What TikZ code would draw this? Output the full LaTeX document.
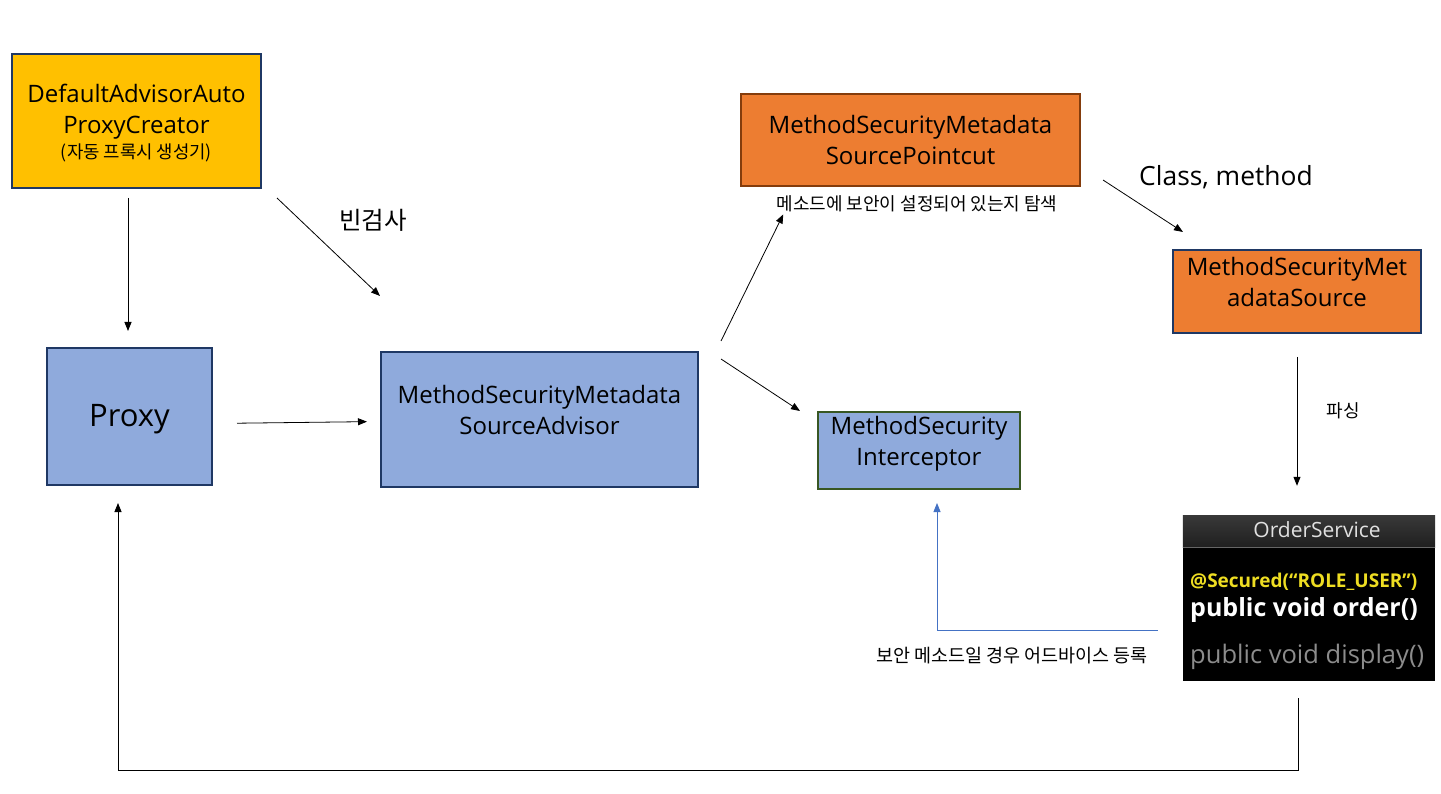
\documentclass[tikz,border=0pt]{standalone}
\usepackage{fontspec}
\setmainfont{Open Sans}
\newfontfamily\kr{Noto Sans CJK KR}
\usetikzlibrary{arrows.meta,calc}
\definecolor{advyellow}{HTML}{FFC000}
\definecolor{beanblue}{HTML}{8FAADC}
\definecolor{cutorange}{HTML}{ED7D31}
\definecolor{navyline}{HTML}{1F3864}
\definecolor{brownline}{HTML}{843C0C}
\definecolor{greenline}{HTML}{385723}
\definecolor{regblue}{HTML}{4472C4}
\definecolor{annoyellow}{HTML}{EEDD22}
\begin{document}
\begin{tikzpicture}[x=1pt,y=-1pt,
	box/.style={draw=navyline, line width=2pt, align=center, inner sep=0pt, font=\fontsize{24}{31.5}\selectfont},
	lift/.style={text depth=#1},
	arr/.style={-{Triangle[length=9pt,width=7pt]}, line width=0.8pt},
	note/.style={inner sep=0pt, font=\kr\fontsize{#1}{#1}\selectfont},
	code/.style={inner sep=0pt, anchor=west}]
	\fill[white] (0,0) rectangle (1441,794);
	\useasboundingbox (0,0) rectangle (1441,794);

	\node[box, fill=advyellow, minimum width=249, minimum height=134, lift=-5pt] (dapc) at (136.5,121)
		{DefaultAdvisorAuto\\ProxyCreator\\[-7pt]{\kr\fontsize{17.8}{20}\selectfont (자동 프록시 생성기)}};
	\node[box, fill=beanblue, minimum width=165, minimum height=137, font=\fontsize{31}{36}\selectfont, text height=28pt] (proxy) at (129.5,416.5) {Proxy};
	\node[box, fill=beanblue, minimum width=317, minimum height=135, lift=19pt] (adv) at (539.5,419.5)
		{MethodSecurityMetadata\\SourceAdvisor};
	\node[box, draw=brownline, fill=cutorange, minimum width=339, minimum height=92] (pcut) at (910.5,140)
		{MethodSecurityMetadata\\SourcePointcut};
	\node[box, fill=cutorange, minimum width=248, minimum height=83, lift=19pt] (mds) at (1297,291.5)
		{MethodSecurityMet\\adataSource};
	\node[box, draw=greenline, fill=beanblue, minimum width=202, minimum height=77, lift=19pt] (icpt) at (919,450.5)
		{MethodSecurity\\Interceptor};

	% OrderService capture
	\node[fill=black, inner sep=0pt, minimum width=252, minimum height=165] (svc) at (1309,598.5) {};
	\fill[top color=black!78, bottom color=black!88] (svc.north west) rectangle ([yshift=-32pt]svc.north east);
	\draw[black!60, line width=1pt] ([yshift=-32pt]svc.north west) -- ([yshift=-32pt]svc.north east);
	\node[inner sep=0pt, text=black!12, font=\fontsize{21}{24}\selectfont] (svcname) at (1317,530) {OrderService};
	\node[code, text=annoyellow, font=\bfseries\fontsize{19}{22}\selectfont] (secured) at (1190,582) {@Secured(“ROLE\_USER”)};
	\node[code, text=white, font=\bfseries\fontsize{25}{28}\selectfont] (order) at (1190,610) {public void order()};
	\node[code, text=black!45, font=\fontsize{25.5}{28}\selectfont] (display) at (1190,657) {public void display()};

	\node[note=24.5] (beancheck) at (373,220) {빈검사};
	\node[note=18] (pcutnote) at (917,204) {메소드에 보안이 설정되어 있는지 탐색};
	\node[inner sep=0pt, font=\fontsize{26.4}{30}\selectfont] (clsm) at (1226,177) {Class, method};
	\node[note=18] (parse) at (1343,411) {파싱};
	\node[note=18.5] (regnote) at (1012,656) {보안 메소드일 경우 어드바이스 등록};

	\coordinate (floor) at (118,770);

	\draw[arr, shorten <=9pt, shorten >=16pt] ([xshift=-1.5pt]proxy.north |- dapc.south) -- ([xshift=-1.5pt]proxy.north);
	\draw[arr] ([xshift=15pt,yshift=-9pt]dapc.south east) -- ([yshift=55pt]adv.north west);
	\draw[arr, shorten <=24pt, shorten >=13pt] ([yshift=-7pt]proxy.east) -- ([yshift=-2pt]adv.west);
	\draw[arr] ([xshift=22pt,yshift=10pt]adv.north east) -- ([xshift=7pt,yshift=-2pt]pcutnote.south west);
	\draw[arr] ([xshift=22pt,yshift=-8pt]adv.north east) -- ([xshift=-17pt]icpt.north west);
	\draw[arr] ([xshift=22pt,yshift=7pt]pcut.south east) -- ([xshift=11pt,yshift=17pt]mds.north west);
	\draw[arr, shorten <=23pt, shorten >=30pt] (mds.south) -- (mds.south |- svc.north);
	\draw[arr, regblue] ([xshift=-25pt,yshift=-31.5pt]svc.west) -| ([xshift=18pt,yshift=-13pt]icpt.south);
	\draw[arr] ([xshift=-11pt,yshift=-17pt]svc.south) |- (floor) -- ([xshift=-11.5pt,yshift=-17pt]proxy.south);
\end{tikzpicture}
\end{document}
